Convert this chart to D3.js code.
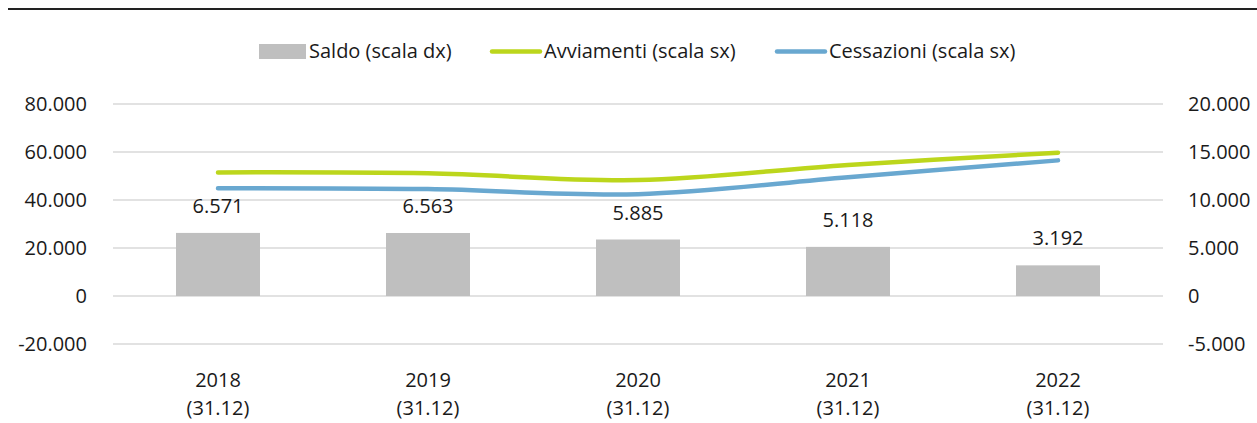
<!DOCTYPE html>
<html>
<head>
<meta charset="utf-8">
<script src="https://cdn.jsdelivr.net/npm/d3@7"></script>
<style>
  body { margin: 0; background: #fff; }
  svg { display: block; font-family: "Open Sans", sans-serif; }
</style>
</head>
<body>
<svg id="chart"></svg>
<script>
// data
var years = ['2018', '2019', '2020', '2021', '2022'];
var subLabel = '(31.12)';
var saldo = [6571, 6563, 5885, 5118, 3192];
var avviamenti = [51500, 51100, 48300, 54600, 59700];
var cessazioni = [44929, 44537, 42415, 49482, 56508];
var leftTicks = [-20000, 0, 20000, 40000, 60000, 80000];
var rightTicks = [-5000, 0, 5000, 10000, 15000, 20000];

var w = 1257, h = 423;
var x0 = 113, x1 = 1163;
var yTop = 104, yBot = 344;
var txt = '#1a1a1a';
var fs = '20px';

var fmt = function(v) {
    var s = Math.abs(v).toString().replace(/\B(?=(\d{3})+(?!\d))/g, '.');
    return (v < 0 ? '-' : '') + s;
};

var svg = d3.select('#chart').attr('width', w).attr('height', h);

// top rule
svg.append('line')
    .attr('x1', 8).attr('x2', w).attr('y1', 9).attr('y2', 9)
    .attr('stroke', '#222').attr('stroke-width', 2);

var xs = d3.scaleBand().domain(years).range([x0, x1]).paddingInner(0.6).paddingOuter(0.3);
var xc = d3.scalePoint().domain(years).range([x0, x1]).padding(0.5);
var yl = d3.scaleLinear().domain([-20000, 80000]).range([yBot, yTop]);
var yr = d3.scaleLinear().domain([-5000, 20000]).range([yBot, yTop]);

// gridlines
svg.append('g')
    .selectAll('line')
    .data(leftTicks)
    .enter()
    .append('line')
    .attr('x1', x0).attr('x2', x1)
    .attr('y1', function(d) { return yl(d); })
    .attr('y2', function(d) { return yl(d); })
    .attr('stroke', '#d9d9d9').attr('stroke-width', 1.5);

// axes (labels only)
var gl = svg.append('g')
    .attr('transform', 'translate(' + (x0 - 26) + ',0)')
    .call(d3.axisLeft(yl).tickValues(leftTicks).tickFormat(fmt).tickSize(0).tickPadding(0));
var gr = svg.append('g')
    .attr('transform', 'translate(' + (x1 + 25) + ',0)')
    .call(d3.axisRight(yr).tickValues(rightTicks).tickFormat(fmt).tickSize(0).tickPadding(0));
[gl, gr].forEach(function(g) {
    g.select('.domain').remove();
    g.selectAll('text').style('font', fs + ' "Open Sans", sans-serif').attr('fill', txt);
});

// bars
svg.append('g')
    .selectAll('rect')
    .data(saldo)
    .enter()
    .append('rect')
    .attr('x', function(d, i) { return xs(years[i]); })
    .attr('width', xs.bandwidth())
    .attr('y', function(d) { return yr(d); })
    .attr('height', function(d) { return yr(0) - yr(d); })
    .attr('fill', '#bfbfbf');

// bar labels
svg.append('g')
    .selectAll('text')
    .data(saldo)
    .enter()
    .append('text')
    .attr('x', function(d, i) { return xc(years[i]); })
    .attr('y', function(d) { return yr(d) - 20; })
    .attr('text-anchor', 'middle')
    .style('font-size', fs)
    .attr('fill', txt)
    .text(fmt);

// lines
var line = d3.line()
    .x(function(d, i) { return xc(years[i]); })
    .y(function(d) { return yl(d); })
    .curve(d3.curveCatmullRom.alpha(0.5));

svg.append('path').datum(avviamenti)
    .attr('d', line).attr('fill', 'none')
    .attr('stroke', '#bcd61c').attr('stroke-width', 4.5).attr('stroke-linecap', 'round');
svg.append('path').datum(cessazioni)
    .attr('d', line).attr('fill', 'none')
    .attr('stroke', '#69a8d0').attr('stroke-width', 4.5).attr('stroke-linecap', 'round');

// x labels
var xl = svg.append('g')
    .selectAll('text')
    .data(years)
    .enter()
    .append('text')
    .attr('x', function(d) { return xc(d); })
    .attr('y', 387)
    .attr('text-anchor', 'middle')
    .style('font-size', fs)
    .attr('fill', txt);
xl.append('tspan').attr('x', function(d) { return xc(d); }).text(function(d) { return d; });
xl.append('tspan').attr('x', function(d) { return xc(d); }).attr('dy', 28).text(subLabel);

// legend
var leg = svg.append('g').style('font-size', fs).attr('fill', txt);
leg.append('rect').attr('x', 259).attr('y', 44).attr('width', 47).attr('height', 15).attr('fill', '#bfbfbf');
leg.append('text').attr('x', 309).attr('y', 58).text('Saldo (scala dx)');
leg.append('line').attr('x1', 492).attr('x2', 540).attr('y1', 51.5).attr('y2', 51.5)
    .attr('stroke', '#bcd61c').attr('stroke-width', 4.5).attr('stroke-linecap', 'round');
leg.append('text').attr('x', 544).attr('y', 58).text('Avviamenti (scala sx)');
leg.append('line').attr('x1', 777).attr('x2', 825).attr('y1', 51.5).attr('y2', 51.5)
    .attr('stroke', '#69a8d0').attr('stroke-width', 4.5).attr('stroke-linecap', 'round');
leg.append('text').attr('x', 829).attr('y', 58).text('Cessazioni (scala sx)');
</script>
</body>
</html>
